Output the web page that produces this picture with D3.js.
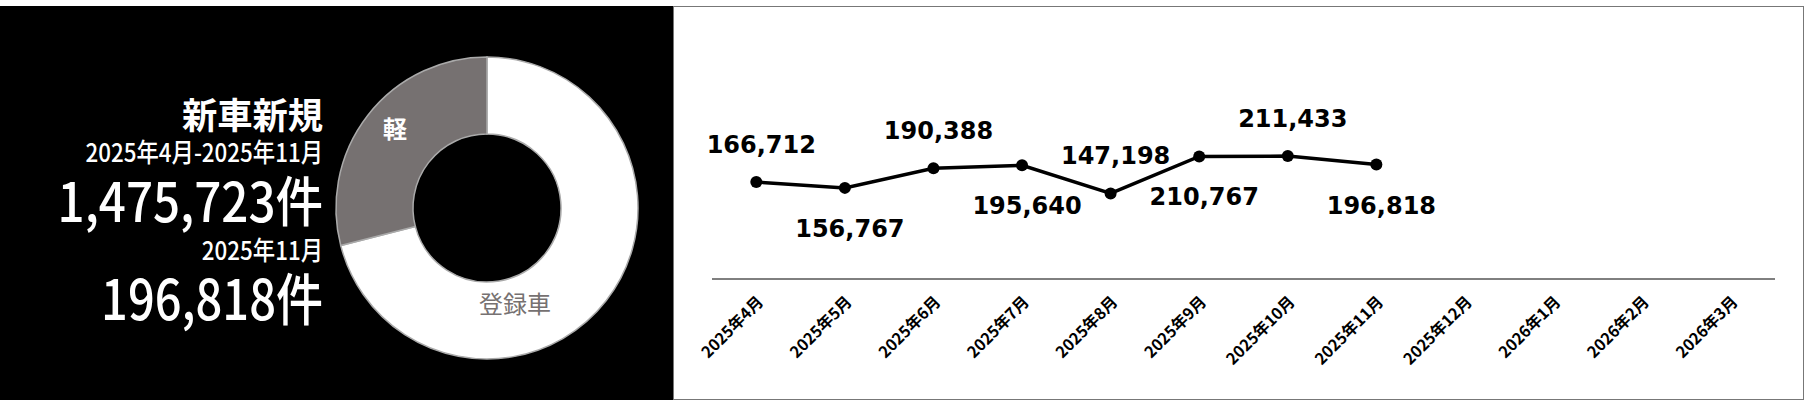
<!DOCTYPE html>
<html><head><meta charset="utf-8">
<script src="https://cdn.jsdelivr.net/npm/d3@7"></script>
<style>body{margin:0;background:#fff}svg{display:block}</style>
</head><body>
<svg id="c" width="1810" height="406"></svg>
<script>
const months=["2025年4月","2025年5月","2025年6月","2025年7月","2025年8月","2025年9月","2025年10月","2025年11月","2025年12月","2026年1月","2026年2月","2026年3月"];
const values=[166712,156767,190388,195640,147198,210767,211433,196818];
const labelSide=["above","below","above","below","above","below","above","below"];
const donutNames=["登録車","軽"];
const donutShares=[0.71,0.29];
const titleLines=["新車新規","2025年4月-2025年11月","1,475,723件","2025年11月","196,818件"];

const svg=d3.select("#c");
svg.append("rect").attr("x",0).attr("y",6).attr("width",673).attr("height",394).attr("fill","#000");
svg.append("rect").attr("x",673.5).attr("y",6.5).attr("width",1130).attr("height",393).attr("fill","#fff").attr("stroke","#777");

// title texts: [baseline, size, weight, scaleX]
const specs=[[129,36,"700",0.98],[162,26,"500",0.86],[222,54,"500",0.88],[260,26,"500",0.86],[320,56,"500",0.84]];
titleLines.forEach((t,i)=>{
 svg.append("g").attr("transform",`translate(323,${specs[i][0]}) scale(${specs[i][3]},1)`)
  .append("text").attr("x",0).attr("y",0).attr("text-anchor","end")
  .attr("font-family","Noto Sans CJK JP").attr("font-size",specs[i][1]).attr("font-weight",specs[i][2])
  .attr("fill","#fff").text(t);
});

// donut
const pie=d3.pie().sort(null)(donutShares);
const arc=d3.arc().innerRadius(74).outerRadius(151);
const dg=svg.append("g").attr("transform","translate(487,208)");
dg.selectAll("path").data(pie).join("path").attr("d",arc)
 .attr("fill",(d,i)=>i===0?"#fff":"#767171").attr("stroke","#aaa").attr("stroke-width",1.5);
dg.append("text").attr("x",28).attr("y",105).attr("text-anchor","middle").attr("font-family","Noto Sans CJK JP")
 .attr("font-size",24).attr("fill","#767171").text(donutNames[0]);
dg.append("text").attr("x",-92).attr("y",-70).attr("text-anchor","middle").attr("font-family","Noto Sans CJK JP")
 .attr("font-size",24).attr("font-weight","700").attr("fill","#fff").text(donutNames[1]);

// line chart
const x=d3.scaleBand().domain(months).range([712,1775]);
const y=d3.scaleLinear().domain([0,480000]).range([279,0]);
svg.append("line").attr("x1",712).attr("x2",1775).attr("y1",279).attr("y2",279).attr("stroke","#000").attr("stroke-width",1);
const cx=i=>x(months[i])+x.bandwidth()/2;
svg.append("path").datum(values).attr("fill","none").attr("stroke","#000").attr("stroke-width",3.5)
 .attr("d",d3.line().x((d,i)=>cx(i)).y(d=>y(d)));
svg.selectAll("circle.p").data(values).join("circle").attr("cx",(d,i)=>cx(i)).attr("cy",d=>y(d)).attr("r",6).attr("fill","#000");
const fmt=d3.format(",");
svg.selectAll("text.v").data(values).join("text").attr("x",(d,i)=>cx(i)+5)
 .attr("y",(d,i)=>y(d)+(labelSide[i]==="above"?-29:49)).attr("text-anchor","middle")
 .attr("font-family","DejaVu Sans").attr("font-weight","700").attr("font-size",24).attr("fill","#000").text(d=>fmt(d));
svg.selectAll("text.m").data(months).join("text")
 .attr("transform",d=>`translate(${x(d)+x.bandwidth()/2+8},303) rotate(-45)`).attr("text-anchor","end")
 .attr("font-family","Noto Sans CJK JP").attr("font-weight","700").attr("font-size",16).text(d=>d);
</script></body></html>
